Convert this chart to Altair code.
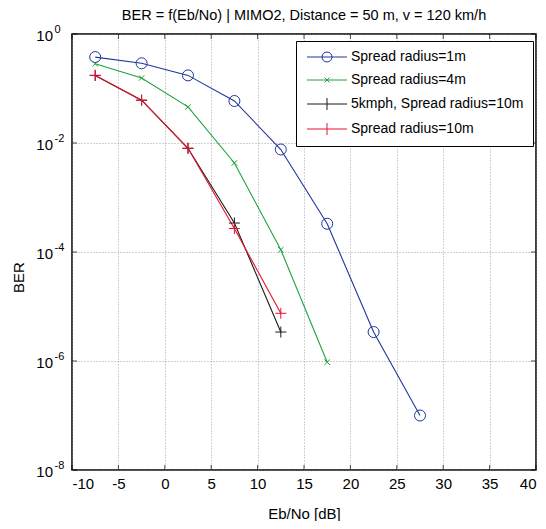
import altair as alt
import pandas as pd

# ---- data ----
x_vals = [-7.5, -2.5, 2.5, 7.5, 12.5, 17.5, 22.5, 27.5]
names = ["Spread radius=1m", "Spread radius=4m",
         "5kmph, Spread radius=10m", "Spread radius=10m"]
ber_r1 = [0.377, 0.29, 0.174, 0.059, 0.0076, 3.3e-4, 3.4e-6, 1.0e-7]
ber_r4 = [0.285, 0.156, 0.046, 0.0043, 1.1e-4, 9.5e-7]
ber_5kmph = [0.174, 0.061, 0.008, 3.4e-4, 3.4e-6]
ber_r10 = [0.174, 0.061, 0.008, 2.7e-4, 7.5e-6]
x_ticks = [-10, -5, 0, 5, 10, 15, 20, 25, 30, 35, 40]
y_ticks = [1, 1e-2, 1e-4, 1e-6, 1e-8]
y_tick_base = ["10", "10", "10", "10", "10"]
y_tick_exp = ["0", "-2", "-4", "-6", "-8"]

colors = ["#1f379a", "#1ea23c", "#1a1a1a", "#e8122e"]

rows = []
for name, ys in zip(names, [ber_r1, ber_r4, ber_5kmph, ber_r10]):
    for x, y in zip(x_vals, ys):
        rows.append({"series": name, "ebno": x, "ber": y})
df = pd.DataFrame(rows)
df_xt = pd.DataFrame({"ebno": x_ticks})
df_yt = pd.DataFrame({"ber": y_ticks, "base": y_tick_base, "exp": y_tick_exp})

FONT = "Liberation Sans"

plot_shapes = ["circle", "M-1,-1L1,1M-1,1L1,-1", "M-1,0H1M0,-1V1", "M-1,0H1M0,-1V1"]
plot_sizes = [121, 30, 121, 121]
legend_shapes = [
    "M-1,0H7M2,0A1,1 0 1,0 4,0A1,1 0 1,0 2,0",
    "M-1,0H7M2.5,-0.5L3.5,0.5M2.5,0.5L3.5,-0.5",
    "M-1,0H7M3,-1.2V1.2",
    "M-1,0H7M3,-1.2V1.2",
]

xscale = alt.Scale(domain=[-10, 40], nice=False, zero=False)
yscale = alt.Scale(type="log", domain=[1e-8, 1], nice=False)
cscale = alt.Scale(domain=names, range=colors)

main_x = alt.Axis(orient="bottom", values=x_ticks, title="Eb/No [dB]", grid=True, ticks=False,
                  domain=False, labelExpr="toString(datum.value)",
                  labelFont=FONT, labelFontSize=15, labelPadding=6, labelColor="black",
                  titleFont=FONT, titleFontSize=15, titleFontWeight="normal", titleColor="black",
                  titleY=43, titleBaseline="middle",
                  gridColor="#8a8a8a", gridDash=[1, 2], gridWidth=0.8)
main_y = alt.Axis(orient="left", values=y_ticks, title="BER", grid=True, ticks=False,
                  domain=False, labels=False,
                  titleFont=FONT, titleFontSize=15, titleFontWeight="normal", titleColor="black",
                  titleX=-54, titleY=243, titleBaseline="middle", titleAngle=270,
                  gridColor="#8a8a8a", gridDash=[1, 2], gridWidth=0.8)


def X(ax=alt.Undefined):
    return alt.X("ebno:Q", scale=xscale, axis=ax)


def Y(ax=alt.Undefined):
    return alt.Y("ber:Q", scale=yscale, axis=ax)


leg = alt.Legend(orient="none", legendX=224, legendY=7, title=None,
                 strokeColor="black", fillColor="white", padding=9, cornerRadius=0,
                 labelFont=FONT, labelFontSize=14, labelColor="black", labelOffset=32,
                 labelLimit=400, rowPadding=9, symbolSize=100, symbolStrokeWidth=1)

base = alt.Chart(df)

# first layer carries the axes and the legend (first definition wins when merged)
legend_layer = base.transform_filter("false").mark_point(
    filled=False, strokeWidth=1, opacity=1, size=100
).encode(
    x=X(main_x), y=Y(main_y),
    color=alt.Color("series:N", scale=cscale, legend=leg),
    shape=alt.Shape("series:N", scale=alt.Scale(domain=names, range=legend_shapes), legend=leg),
)

lines = base.mark_line(strokeWidth=1.1).encode(
    x=X(), y=Y(),
    color=alt.Color("series:N", scale=cscale, legend=None),
    order="ebno:Q",
)

# inward tick marks on all four sides (MATLAB box style)
xt = alt.Chart(df_xt)
yt = alt.Chart(df_yt)
ticks_bottom = xt.mark_tick(orient="vertical", size=5, thickness=1, color="black",
                            yOffset=-2.5).encode(x=X(), y=alt.datum(1e-8))
ticks_top = xt.mark_tick(orient="vertical", size=5, thickness=1, color="black",
                         yOffset=2.5).encode(x=X(), y=alt.datum(1))
ticks_left = yt.mark_tick(orient="horizontal", size=5, thickness=1, color="black",
                          xOffset=2.5).encode(y=Y(), x=alt.datum(-10))
ticks_right = yt.mark_tick(orient="horizontal", size=5, thickness=1, color="black",
                           xOffset=-2.5).encode(y=Y(), x=alt.datum(40))

# y tick labels: "10" with a raised exponent
ylab_base = yt.mark_text(align="right", baseline="middle", dx=-19, dy=2, font=FONT,
                         fontSize=15, color="black").encode(
    y=Y(), x=alt.datum(-10), text="base:N")
ylab_exp = yt.mark_text(align="left", baseline="middle", dx=-17.5, dy=-4, font=FONT,
                        fontSize=11, color="black").encode(
    y=Y(), x=alt.datum(-10), text="exp:N")

layers = [legend_layer, lines, ticks_bottom, ticks_top, ticks_left, ticks_right,
          ylab_base, ylab_exp]
for i, name in enumerate(names):
    pts = base.transform_filter(alt.datum.series == name).mark_point(
        shape=plot_shapes[i], size=plot_sizes[i], filled=False, strokeWidth=1, opacity=1
    ).encode(
        x=X(), y=Y(),
        color=alt.Color("series:N", scale=cscale, legend=None),
    )
    layers.append(pts)

chart = alt.layer(*layers).properties(
    width=464, height=436,
    title=alt.TitleParams("BER = f(Eb/No) | MIMO2, Distance = 50 m, v = 120 km/h",
                          font=FONT, fontSize=14.5, fontWeight="normal", color="black",
                          anchor="middle", frame="group", offset=0.5),
    autosize=alt.AutoSizeParams(type="none"),
    padding={"left": 64, "top": 26, "right": 2, "bottom": 51},
    background="white",
).configure_view(stroke="black", strokeWidth=1.5)

chart.save("out.html", embed_options={"renderer": "svg", "actions": False})
